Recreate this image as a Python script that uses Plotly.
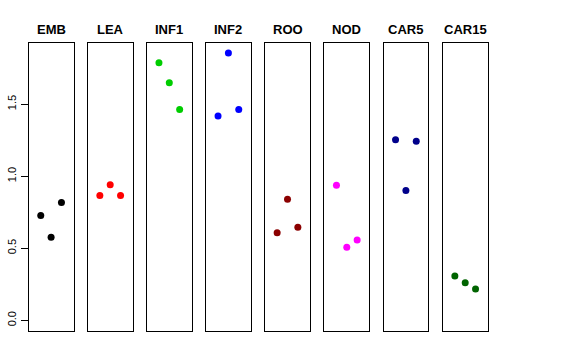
import plotly.graph_objects as go

categories = ["EMB", "LEA", "INF1", "INF2", "ROO", "NOD", "CAR5", "CAR15"]
values = [
    [0.727, 0.577, 0.817],
    [0.866, 0.940, 0.866],
    [1.787, 1.649, 1.463],
    [1.417, 1.854, 1.463],
    [0.607, 0.840, 0.646],
    [0.938, 0.507, 0.558],
    [1.253, 0.901, 1.243],
    [0.308, 0.260, 0.218],
]
colors = ["#000000", "#FF0000", "#00CD00", "#0000FF", "#8B0000", "#FF00FF", "#00008B", "#006400"]
positions = [1, 2, 3]
y_ticks = [0.0, 0.5, 1.0, 1.5]
y_tick_labels = ["0.0", "0.5", "1.0", "1.5"]

W, H = 576, 360
box_left = [28.7, 87.8, 146.9, 206.0, 265.1, 324.4, 383.5, 442.8]
box_w = 44.8
y_top, y_bot = 43, 331

fig = go.Figure()
layout = dict(
    width=W, height=H, margin=dict(l=0, r=0, t=0, b=0, autoexpand=False),
    paper_bgcolor="white", plot_bgcolor="white", showlegend=False,
    font=dict(family="Liberation Sans, Arial, sans-serif", color="black"),
    annotations=[],
)
for i, (cat, vals, col) in enumerate(zip(categories, values, colors)):
    n = "" if i == 0 else str(i + 1)
    fig.add_trace(go.Scatter(
        x=positions, y=vals, mode="markers",
        marker=dict(color=col, size=7, line=dict(width=0)),
        xaxis="x" + n, yaxis="y" + n,
    ))
    x0 = box_left[i] / W
    x1 = (box_left[i] + box_w) / W
    layout["xaxis" + n] = dict(
        domain=[x0, x1], range=[-0.165, 4.165], showgrid=False, zeroline=False,
        showticklabels=False, ticks="", showline=True, mirror=True,
        linecolor="black", linewidth=1, anchor="y" + n, fixedrange=True,
    )
    ya = dict(
        domain=[1 - y_bot / H, 1 - y_top / H], range=[-0.074, 1.924],
        showgrid=False, zeroline=False, showline=True, mirror=True,
        linecolor="black", linewidth=1, anchor="x" + n,
    )
    if i == 0:
        ya.update(tickmode="array", tickvals=y_ticks, ticktext=y_tick_labels,
                  ticks="outside", ticklen=7, tickcolor="black", tickwidth=1,
                  tickangle=-90, tickfont=dict(size=11), showticklabels=True)
    else:
        ya.update(showticklabels=False, ticks="")
    layout["yaxis" + n] = ya
    layout["annotations"].append(dict(
        text="<b>" + cat + "</b>", x=(x0 + x1) / 2, y=1 - 29 / H,
        xref="paper", yref="paper", showarrow=False,
        font=dict(size=13, color="black"), xanchor="center", yanchor="middle",
    ))

fig.update_layout(**layout)
fig.write_html("out.html", config={"displayModeBar": False},
               post_script="document.body.style.margin='0';document.body.style.overflow='hidden';")
